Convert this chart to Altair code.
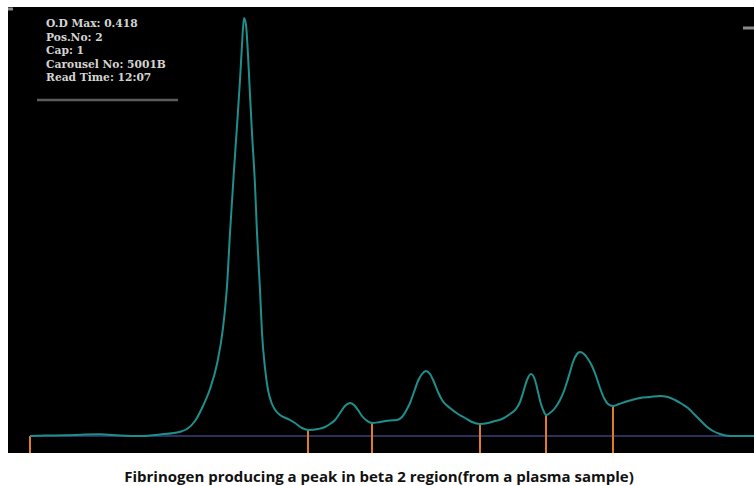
import altair as alt
import pandas as pd

# Densitometer scan: migration position (arbitrary units) and optical density
position = [
    22, 37, 57, 77, 92, 112, 132, 152, 172,
    179, 187, 195, 202, 209, 215, 219, 222, 226, 229, 232, 234, 236,
    238, 240, 242, 244, 247, 249, 252, 254, 257, 260, 264, 268, 272, 280, 287, 294, 301,
    310, 317, 322, 327, 332, 337, 342, 346, 350, 354, 358, 364,
    372, 382, 389, 394, 398, 402, 406, 410, 414, 418, 422, 426, 430, 434, 442, 450, 457, 464, 472,
    480, 487, 494, 502, 508, 512, 515, 519, 523, 527, 530, 533, 536, 538,
    542, 547, 552, 556, 559, 562, 565, 569, 572, 576, 580, 584, 588, 592, 596, 600, 605,
    611, 617, 624, 632, 642, 652, 660, 667, 674, 680, 686, 692, 698, 705, 712, 722, 746,
]
od = [
    0, 0.0005, 0.0007, 0.0015, 0.0017, 0.0005, 0, 0.0015, 0.0043,
    0.007, 0.015, 0.030, 0.047, 0.072, 0.108, 0.150, 0.203, 0.266, 0.310, 0.356, 0.391, 0.418,
    0.411, 0.381, 0.341, 0.303, 0.251, 0.203, 0.146, 0.103, 0.068, 0.046, 0.032, 0.025, 0.021, 0.017, 0.013, 0.008, 0.006,
    0.007, 0.009, 0.012, 0.016, 0.023, 0.030, 0.033, 0.031, 0.026, 0.020, 0.016, 0.013,
    0.014, 0.0155, 0.016, 0.019, 0.025, 0.033, 0.044, 0.055, 0.062, 0.065, 0.062, 0.054, 0.044, 0.036, 0.028, 0.022, 0.018, 0.014, 0.012,
    0.013, 0.015, 0.017, 0.022, 0.027, 0.034, 0.043, 0.056, 0.062, 0.056, 0.044, 0.032, 0.024, 0.021,
    0.023, 0.028, 0.036, 0.045, 0.054, 0.064, 0.074, 0.082, 0.084, 0.082, 0.077, 0.070, 0.060, 0.048, 0.038, 0.032, 0.030,
    0.032, 0.034, 0.036, 0.038, 0.039, 0.040, 0.039, 0.036, 0.032, 0.028, 0.022, 0.016, 0.010, 0.005, 0.002, 0, 0,
]
assert len(position) == len(od)

# Fraction separators (position, OD at the valley)
sep_position = [22, 300, 364, 472, 538, 605]
sep_od = [0, 0.006, 0.013, 0.012, 0.021, 0.030]

info_lines = ["O.D Max: 0.418", "Pos.No: 2", "Cap: 1", "Carousel No: 5001B", "Read Time: 12:07"]
caption = "Fibrinogen producing a peak in beta 2 region(from a plasma sample)"

Y_MIN, Y_MAX = -0.017, 0.429
X_MIN, X_MAX = 0, 746

xs = alt.Scale(domain=[X_MIN, X_MAX], nice=False, zero=False)
ys = alt.Scale(domain=[Y_MIN, Y_MAX], nice=False, zero=False)

curve_df = pd.DataFrame({"pos": position, "od": od})
sep_df = pd.DataFrame({"pos": sep_position, "od": sep_od, "bottom": [Y_MIN] * len(sep_position)})
base_df = pd.DataFrame({"x1": [sep_position[0]], "x2": [X_MAX], "y": [0.0]})
info_df = pd.DataFrame({"txt": info_lines, "pos": [38] * len(info_lines),
                        "od": [0.412 - i * 0.0135 for i in range(len(info_lines))]})
underline_df = pd.DataFrame({"x1": [29], "x2": [170], "y": [0.336]})
tick_df = pd.DataFrame({"x1": [735, 0], "x2": [746, 5], "y": [0.408, 0.427]})
cap_df = pd.DataFrame({"txt": [caption]})

noax = dict(axis=None)

baseline = alt.Chart(base_df).mark_rule(color="#2c2e5e", strokeWidth=2).encode(
    x=alt.X("x1:Q", scale=xs, **noax), x2="x2:Q", y=alt.Y("y:Q", scale=ys, **noax))

seps = alt.Chart(sep_df).mark_rule(color="#e07b28", strokeWidth=2).encode(
    x=alt.X("pos:Q", scale=xs, **noax),
    y=alt.Y("od:Q", scale=ys, **noax), y2="bottom:Q")

curve = alt.Chart(curve_df).mark_line(color="#1f8f8c", strokeWidth=2, interpolate="monotone").encode(
    x=alt.X("pos:Q", scale=xs, **noax), y=alt.Y("od:Q", scale=ys, **noax))

info = alt.Chart(info_df).mark_text(align="left", baseline="middle", font="DejaVu Serif",
                                    fontSize=10.7, fontWeight="bold", color="#d4d4d4").encode(
    x=alt.X("pos:Q", scale=xs, **noax), y=alt.Y("od:Q", scale=ys, **noax), text="txt:N")

underline = alt.Chart(underline_df).mark_rule(color="#5c5c5c", strokeWidth=2.5).encode(
    x=alt.X("x1:Q", scale=xs, **noax), x2="x2:Q", y=alt.Y("y:Q", scale=ys, **noax))

ticks = alt.Chart(tick_df).mark_rule(color="#8a8a8a", strokeWidth=3).encode(
    x=alt.X("x1:Q", scale=xs, **noax), x2="x2:Q", y=alt.Y("y:Q", scale=ys, **noax))

cap = alt.Chart(cap_df).mark_text(align="center", baseline="middle", font="Open Sans",
                                  fontSize=15, fontWeight="bold", color="#111111").encode(
    x=alt.value(371), y=alt.value(470), text="txt:N")

chart = alt.layer(baseline, seps, curve, underline, ticks, info, cap).properties(
    width=746, height=446,
    autosize=alt.AutoSizeParams(type="none"),
    padding={"left": 8, "top": 7, "right": 0, "bottom": 33},
    background="white",
).configure_view(fill="black", strokeWidth=0)

chart.save("out.html", embed_options={"renderer": "svg", "actions": False})
